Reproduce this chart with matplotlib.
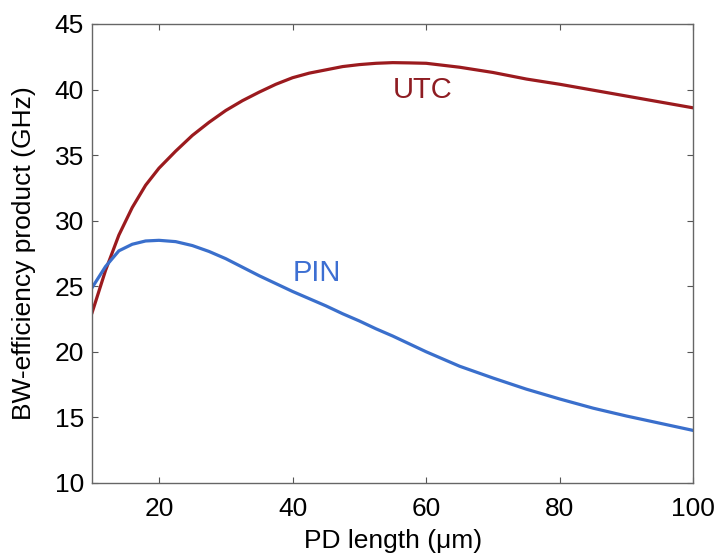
import matplotlib
matplotlib.use('Agg')
import matplotlib.pyplot as plt

# values
pd_length = [10, 12, 14, 16, 18, 20, 22.5, 25, 27.5, 30, 32.5, 35, 37.5, 40,
             42.5, 45, 47.5, 50, 52.5, 55, 57.5, 60, 62.5, 65, 70, 75, 80,
             85, 90, 95, 100]
utc = [23.0, 26.2, 28.9, 31.0, 32.7, 34.0, 35.3, 36.5, 37.5, 38.4, 39.15, 39.8,
       40.4, 40.9, 41.25, 41.5, 41.75, 41.9, 42.0, 42.05, 42.03, 42.0, 41.85,
       41.7, 41.3, 40.8, 40.4, 39.95, 39.5, 39.05, 38.6]
pin = [24.9, 26.5, 27.7, 28.2, 28.45, 28.5, 28.4, 28.1, 27.65, 27.1, 26.45, 25.8,
       25.2, 24.6, 24.05, 23.5, 22.9, 22.35, 21.75, 21.2, 20.6, 20.0, 19.45,
       18.9, 18.0, 17.15, 16.4, 15.7, 15.1, 14.55, 14.0]

x_ticks = [20, 40, 60, 80, 100]
y_ticks = [10, 15, 20, 25, 30, 35, 40, 45]

plt.rcParams['font.family'] = ['Liberation Sans', 'DejaVu Sans']

fig = plt.figure(figsize=(7.2, 5.57), dpi=100)
ax = fig.add_axes([0.128, 0.133, 0.835, 0.824])

utc_color = '#9b1a1e'
pin_color = '#3a6fcc'

ax.plot(pd_length, utc, color=utc_color, linewidth=2.3)
ax.plot(pd_length, pin, color=pin_color, linewidth=2.3)

ax.text(59.5, 40.0, 'UTC', color='#8e1c22', fontsize=21, ha='center', va='center')
ax.text(43.7, 26.0, 'PIN', color='#3d6fd2', fontsize=21, ha='center', va='center')

ax.set_xlim(10, 100)
ax.set_ylim(10, 45)
ax.set_xticks(x_ticks)
ax.set_yticks(y_ticks)
ax.tick_params(direction='in', top=True, right=True, length=4, width=0.8,
               color='#555555', labelsize=19)
ax.tick_params(axis='x', pad=10)
ax.tick_params(axis='y', pad=6)
for s in ax.spines.values():
    s.set_color('#666666')
    s.set_linewidth(1.0)

ax.set_xlabel('PD length (\u03bcm)', fontsize=19, labelpad=6)
ax.set_ylabel('BW-efficiency product (GHz)', fontsize=19, labelpad=13)

fig.savefig('out.png', dpi=100)
